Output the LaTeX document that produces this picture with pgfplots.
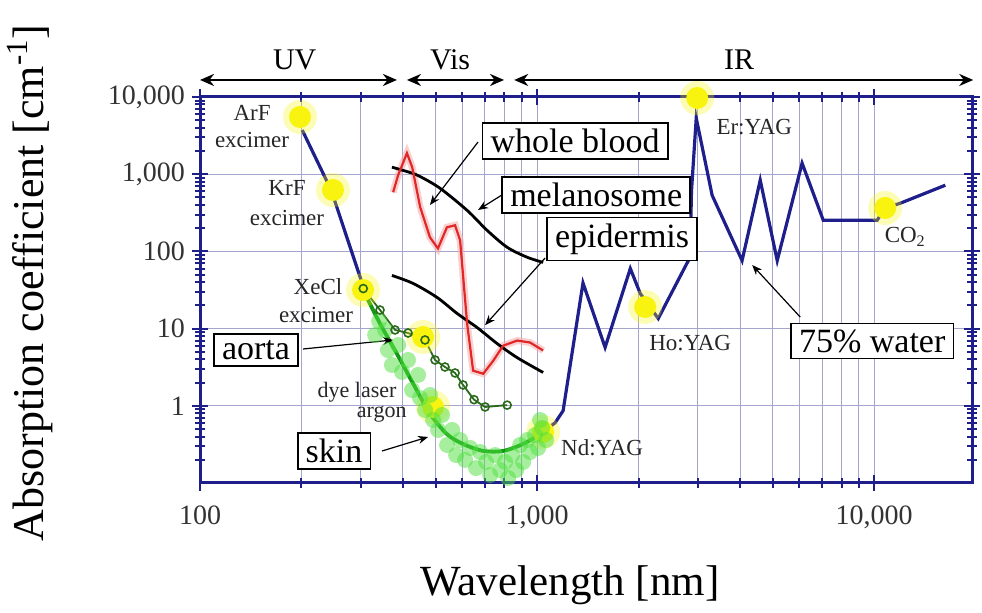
\documentclass[border=0pt]{standalone}
\usepackage{fontspec}
\setmainfont{Liberation Serif}
\usepackage{pgfplots}
\pgfplotsset{compat=1.18}
\usetikzlibrary{arrows.meta}
\definecolor{navy}{HTML}{1F1F8C}
\definecolor{gridc}{HTML}{A4A4CC}
\definecolor{bloodred}{HTML}{E02828}
\definecolor{pinkglow}{HTML}{F7B0B0}
\definecolor{skingreen}{HTML}{139A13}
\definecolor{aortagreen}{HTML}{2A6A1A}
\definecolor{lightgreen}{HTML}{4FE040}
\definecolor{laseryellow}{HTML}{F8F410}
\begin{document}
\begin{tikzpicture}
\path[use as bounding box] (0,0) rectangle (491pt,306.5pt);
\begin{axis}[
  at={(100pt,65pt)}, anchor=south west,
  scale only axis, width=386pt, height=193pt,
  xmode=log, ymode=log,
  xmin=100, xmax=19500, ymin=0.1, ymax=10000,
  clip=false,
  axis line style={navy, line width=1.5pt},
  xtick={100,1000,10000},
  xticklabels={100,{1,000},{10,000}},
  minor xtick={200,300,400,500,600,700,800,900,2000,3000,4000,5000,6000,7000,8000,9000},
  ytick={1,10,100,1000,10000},
  yticklabels={1,10,100,{1,000},{10,000}},
  minor ytick={0.2,0.3,0.4,0.5,0.6,0.7,0.8,0.9,2,3,4,5,6,7,8,9,20,30,40,50,60,70,80,90,200,300,400,500,600,700,800,900,2000,3000,4000,5000,6000,7000,8000,9000},
  xmajorgrids, xminorgrids, ymajorgrids,
  grid style={gridc, line width=0.5pt},
  major tick length=8pt, minor tick length=5pt,
  tick align=center, tick pos=both,
  tick style={navy, line width=1pt},
  xticklabel pos=lower, yticklabel pos=left,
  tick label style={font=\fontsize{14}{16}\selectfont, text=black!80},
  xticklabel style={yshift=-4pt},
]
% red glow
\addplot[no marks, pinkglow, line width=3.5pt, opacity=0.6] coordinates {(374,583)(387,970)(411,1875)(426,1233)(450,373)(481,152)(508,109)(540,205)(571,218)(591,139)(603,48.8)(620,11.6)(646,2.85)(692,2.6)(740,3.8)(793,6.0)(873,7.0)(953,6.6)(1042,5.2)};
% water (UV)
\addplot[no marks, navy, line width=1.6pt] coordinates {(201,3730)(245,620)(305,35)};
% water (IR)
\addplot[no marks, navy, line width=1.6pt] coordinates {(1042,0.46)(1130,0.60)(1194,0.86)(1368,39)(1591,5.7)(1890,60)(2022,28.5)(2287,13.5)(2843,84)(2870,600)(2965,5330)(3305,533)(4055,76)(4590,836)(5155,76)(6110,1390)(7060,253)(10200,253)(10780,365)(11940,420)(16250,720)};
% melanosome
\addplot[no marks, black, line width=1.4pt, smooth] coordinates {(371,1233)(420,1050)(450,930)(515,658)(620,340)(711,187)(815,113)(934,84)(1042,72)};
% epidermis
\addplot[no marks, black, line width=1.4pt, smooth] coordinates {(371,48.8)(429,38.4)(505,25.3)(579,15.7)(664,10.3)(761,6.4)(873,4.2)(1042,2.7)};
% whole blood
\addplot[no marks, bloodred, line width=1.1pt] coordinates {(374,583)(387,970)(411,1875)(426,1233)(450,373)(481,152)(508,109)(540,205)(571,218)(591,139)(603,48.8)(620,11.6)(646,2.85)(692,2.6)(740,3.8)(793,6.0)(873,7.0)(953,6.6)(1042,5.2)};
% laser glows (soft halo)
\addplot[only marks, mark=*, mark size=8.5pt, laseryellow, mark options={line width=0pt, draw opacity=0, fill=laseryellow, fill opacity=0.3}] coordinates {(198,5508)(248,624)(304.6,31.6)(459,7.78)(491,0.965)(1042,0.458)(2092,19.05)(2985,9707)(10780,365)};
% laser lines (dots)
\addplot[only marks, mark=*, mark size=5.5pt, laseryellow, mark options={line width=0pt, draw opacity=0, fill=laseryellow}] coordinates {(198,5508)(248,624)(304.6,31.6)(459,7.78)(491,0.965)(1042,0.458)(2092,19.05)(2985,9707)(10780,365)};
% skin scatter
\addplot[only marks, mark=*, mark size=4pt, lightgreen, mark options={line width=0pt, draw opacity=0, fill=lightgreen, fill opacity=0.5}] coordinates {(330.7,8.26)(340,12.5)(354,9.59)(361,5.28)(371,3.38)(387,6.13)(397.6,2.74)(414,3.92)(425.7,1.60)(443.6,2.51)(449.6,1.26)(465.4,0.882)(481.4,1.38)(491.4,0.655)(508.4,0.486)(522.5,0.760)(540.6,0.311)(559.5,0.486)(575,0.230)(591,0.360)(611.5,0.199)(632.7,0.284)(659.2,0.156)(677.5,0.252)(706,0.187)(725.5,0.127)(750.8,0.230)(776.8,0.147)(803.5,0.187)(820,0.116)(843,0.230)(866.6,0.147)(890.6,0.311)(909,0.187)(934,0.360)(953.2,0.252)(986.5,0.418)(1007,0.284)(1034.6,0.516)(1063.4,0.360)(1020.7,0.655)};
% skin
\addplot[no marks, skingreen, line width=1.9pt, smooth] coordinates {(305,31.2)(342,11.6)(384,4.7)(429,1.93)(481,0.79)(540,0.43)(603,0.32)(692,0.26)(793,0.26)(908,0.32)(1042,0.446)};
% aorta
\addplot[aortagreen, line width=0.9pt, mark=o, mark size=2pt, mark options={line width=0.8pt}] coordinates {(305,33)(342,17.4)(379,9.6)(414,8.77)(465,7.12)(498,3.92)(533,3.18)(571,2.66)(603,1.86)(650,1.2)(701,0.965)(815,1.02)};

% region arrows
\draw[{Stealth[length=7pt,width=6pt]}-{Stealth[length=7pt,width=6pt]}, line width=1.3pt] (axis cs:100,16610) -- (axis cs:384,16610);
\draw[{Stealth[length=7pt,width=6pt]}-{Stealth[length=7pt,width=6pt]}, line width=1.3pt] (axis cs:411,16610) -- (axis cs:798,16610);
\draw[{Stealth[length=7pt,width=6pt]}-{Stealth[length=7pt,width=6pt]}, line width=1.3pt] (axis cs:855,16610) -- (axis cs:19670,16610);
\node[font=\fontsize{15}{17}\selectfont] at (axis cs:191,30150) {UV};
\node[font=\fontsize{15}{17}\selectfont] at (axis cs:552,30150) {Vis};
\node[font=\fontsize{15}{17}\selectfont] at (axis cs:3976,30150) {IR};

% pointer arrows
\draw[-{Stealth[length=5pt,width=4pt]}, line width=0.6pt] (axis cs:668,2612) -- (axis cs:481,399);
\draw[-{Stealth[length=5pt,width=4pt]}, line width=0.6pt] (axis cs:803.5,571) -- (axis cs:668,343.9);
\draw[-{Stealth[length=5pt,width=4pt]}, line width=0.6pt] (axis cs:1056,82.1) -- (axis cs:701,11.1);
\draw[-{Stealth[length=5pt,width=4pt]}, line width=0.6pt] (axis cs:202.1,5.44) -- (axis cs:373.8,7.12);
\draw[-{Stealth[length=5pt,width=4pt]}, line width=0.6pt] (axis cs:346.7,0.2597) -- (axis cs:474.9,0.3945);
\draw[-{Stealth[length=5pt,width=4pt]}, line width=0.6pt] (axis cs:6032,14.1) -- (axis cs:4345,66.6);

% boxed labels
\tikzset{lbox/.style={draw=black, line width=0.8pt, fill=white, font=\fontsize{17}{20}\selectfont, inner xsep=4pt, inner ysep=3pt}}
\node[lbox] at (axis cs:1297,2692) {whole blood};
\node[lbox] at (axis cs:1497,538) {melanosome};
\node[lbox] at (axis cs:1787,144.7) {epidermis};
\node[lbox] at (axis cs:146.6,5.28) {aorta};
\node[lbox] at (axis cs:249.8,0.2597) {skin};
\node[lbox] at (axis cs:9865,6.91) {75\% water};

% laser labels
\tikzset{ltxt/.style={font=\fontsize{11.5}{13}\selectfont, text=black!85, inner sep=0pt}}
\node[ltxt] at (axis cs:142.7,6204) {ArF};
\node[ltxt] at (axis cs:142.7,2773) {excimer};
\node[ltxt] at (axis cs:181.2,662) {KrF};
\node[ltxt] at (axis cs:181.2,270.8) {excimer};
\node[ltxt] at (axis cs:223.9,34.6) {XeCl};
\node[ltxt] at (axis cs:220.9,15.0) {excimer};
\node[ltxt, font=\fontsize{11}{12}\selectfont] at (axis cs:292.4,1.50) {dye laser};
\node[ltxt, font=\fontsize{11}{12}\selectfont] at (axis cs:346,0.77) {argon};
\node[ltxt] at (axis cs:1559,0.284) {Nd:YAG};
\node[ltxt] at (axis cs:2844,6.51) {Ho:YAG};
\node[ltxt] at (axis cs:4405,4088) {Er:YAG};
\node[ltxt] at (axis cs:12360,153.7) {CO\textsubscript{2}};
\end{axis}
\node[rotate=90, font=\fontsize{22}{26}\selectfont] at (15pt,165pt) {Absorption coefficient [cm\textsuperscript{-1}]};
\node[font=\fontsize{21.5}{26}\selectfont] at (285pt,14pt) {Wavelength [nm]};
\end{tikzpicture}
\end{document}
